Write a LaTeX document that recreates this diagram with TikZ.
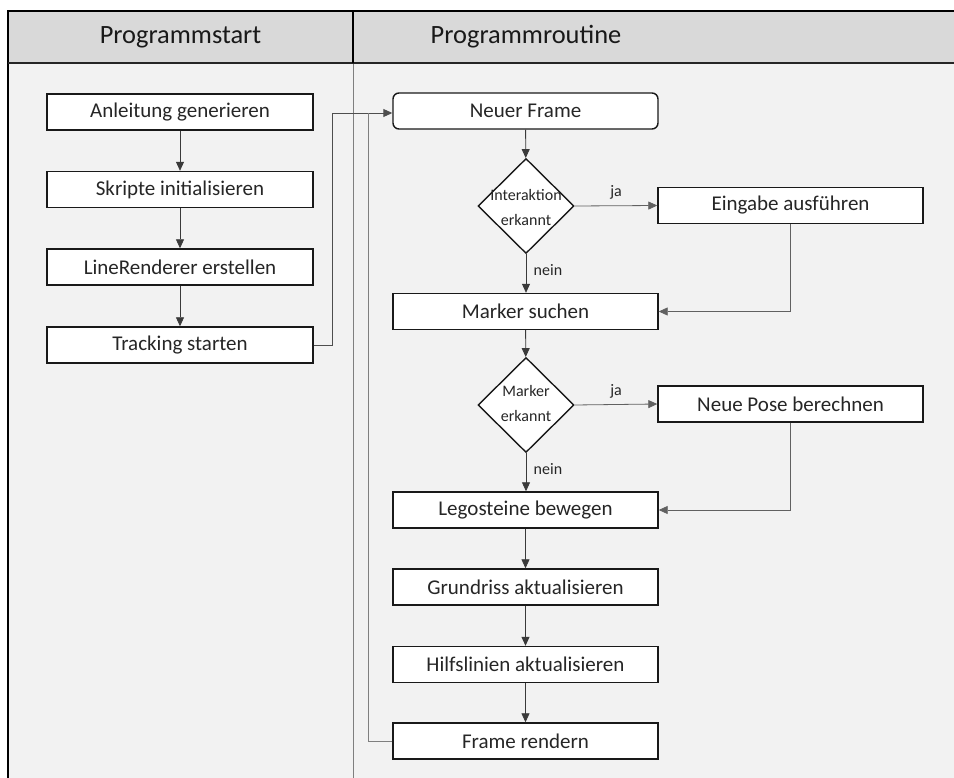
\documentclass[tikz,border=0pt]{standalone}
\usepackage{fontspec}
\setmainfont{Carlito}
\usetikzlibrary{shapes.geometric,arrows.meta}
\definecolor{panelbg}{HTML}{F2F2F2}
\definecolor{headbg}{HTML}{D9D9D9}
\definecolor{txt}{HTML}{262626}
\definecolor{conn}{HTML}{3A3A3A}
\definecolor{loopc}{HTML}{7F7F7F}
\tikzset{
  stepbox/.style={draw=black!90, line width=1.4pt, fill=white, minimum width=265pt,
    minimum height=36pt, inner sep=0pt, text=txt, font=\fontsize{21}{24}\selectfont},
  roundbox/.style={stepbox, rounded corners=6pt},
  decision/.style={draw=black!90, line width=1.4pt, fill=white, diamond, aspect=1,
    minimum width=96pt, minimum height=95pt, inner sep=0pt},
  dtext/.style={align=center, text=txt, font=\fontsize{16}{25}\selectfont},
  lbl/.style={text=txt, font=\fontsize{16}{19}\selectfont},
  headtext/.style={text=black!90, font=\fontsize{26.4}{30}\selectfont},
  flow/.style={draw=conn, line width=0.8pt, -{Triangle[length=9pt,width=8pt]}},
  yesflow/.style={flow, draw=conn!80},
  back/.style={draw=loopc, line width=0.9pt},
}
\begin{document}
\begin{tikzpicture}[x=1pt,y=-1pt]
\useasboundingbox (0,0) rectangle (954,778);
\fill[white] (0,0) rectangle (954,778);
% swimlane panel
\fill[panelbg] (8,11) rectangle (954,778);
\fill[headbg] (8,11) rectangle (954,63);
\draw[loopc, line width=0.8pt] (353,63) -- (353,778);
\draw[black, line width=1.6pt] (954,11) -- (8,11) -- (8,778);
\draw[black!85, line width=1.4pt] (8,63) -- (954,63);
\draw[black, line width=1.6pt] (353,11) -- (353,63);
\node[headtext] (h1) at (180.5,37) {Programmstart};
\node[headtext] (h2) at (526,37) {Programmroutine};

% start column
\node[stepbox, minimum width=266pt] (a1) at (180,112) {Anleitung generieren};
\node[stepbox, minimum width=266pt] (a2) at (180,189.5) {Skripte initialisieren};
\node[stepbox, minimum width=266pt] (a3) at (180,267) {LineRenderer erstellen};
\node[stepbox, minimum width=266pt] (a4) at (180,345) {Tracking starten};

% routine column
\node[roundbox] (b1) at (525.5,111) {Neuer Frame};
\node[decision] (d1) at (526,206) {};
\node[dtext] (d1t) at (526,208) {Interaktion\\erkannt};
\node[stepbox] (e1) at (790.5,205.5) {Eingabe ausführen};
\node[stepbox] (b2) at (525.5,311.5) {Marker suchen};
\node[decision] (d2) at (526,405) {};
\node[dtext] (d2t) at (526,404) {Marker\\erkannt};
\node[stepbox] (e2) at (790.5,404) {Neue Pose berechnen};
\node[stepbox] (b3) at (525.5,510) {Legosteine bewegen};
\node[stepbox] (b4) at (525.5,587) {Grundriss aktualisieren};
\node[stepbox] (b5) at (525.5,664.5) {Hilfslinien aktualisieren};
\node[stepbox] (b6) at (525.5,741) {Frame rendern};

% connectors
\draw[flow] (a1) -- (a2);
\draw[flow] (a2) -- (a3);
\draw[flow] (a3) -- (a4);
\coordinate (t1) at (332,345);
\coordinate (t2) at (332,113);
\draw[back, -{Triangle[length=9pt,width=8pt]}, draw=conn!90] (a4.east) -- (t1) -- (t2) -- (b1.west |- t2);
\coordinate (r1) at (368,741);
\coordinate (r2) at (368,113);
\draw[back] (b6.west) -- (r1) -- (r2);

\draw[flow] (b1) -- (d1);
\draw[yesflow] (d1.east) -- node[lbl, above, pos=0.5, yshift=3pt] (j1) {ja} (e1.west);
\draw[flow] (d1.south) -- node[lbl, right, pos=0.42, xshift=4pt] (n1) {nein} (b2.north -| d1.south);
\coordinate (c1) at (e1.south |- b2.east);
\draw[yesflow] (e1.south) -- (c1) -- (b2.east);

\draw[flow] (b2) -- (d2);
\draw[yesflow] (d2.east) -- node[lbl, above, pos=0.5, yshift=3pt] (j2) {ja} (e2.west);
\draw[flow] (d2.south) -- node[lbl, right, pos=0.42, xshift=4pt] (n2) {nein} (b3.north -| d2.south);
\coordinate (c2) at (e2.south |- b3.east);
\draw[yesflow] (e2.south) -- (c2) -- (b3.east);

\draw[flow] (b3) -- (b4);
\draw[flow] (b4) -- (b5);
\draw[flow] (b5) -- (b6);
\end{tikzpicture}
\end{document}
